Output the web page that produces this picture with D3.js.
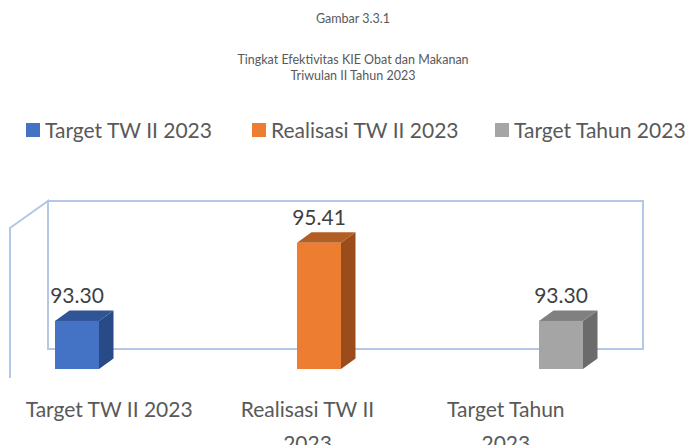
<!DOCTYPE html>
<meta charset="utf-8">
<style>
body { margin: 0; background: #fff; }
text { font-family: Lato, Carlito, Calibri, sans-serif; }
.wall { fill: none; stroke: #b4c7e7; stroke-width: 2px; }
.title { fill: #595959; font-size: 12.5px; }
.legend text, .cat { fill: #595959; font-size: 21px; }
.val { fill: #404040; font-size: 21px; }
</style>
<body>
<svg id="chart" width="700" height="445"></svg>
<script src="https://d3js.org/d3.v7.min.js"></script>
<script>

const titleLines = ["Gambar 3.3.1", "Tingkat Efektivitas KIE Obat dan Makanan", "Triwulan II Tahun 2023"]
const categories = ["Target TW II 2023", "Realisasi TW II 2023", "Target Tahun 2023"]
const values = [93.30, 95.41, 93.30]
const yDomain = [92, 96]

const front = ["#4472c4", "#ed7d31", "#a5a5a5"]
const top_ = ["#2f5597", "#b35f23", "#808080"]
const side = ["#284a86", "#9a4d1b", "#6b6b6b"]

const svg = d3.select("#chart")

// title
svg.selectAll(".title").data(titleLines).join("text")
    .attr("class", "title")
    .attr("x", 353)
    .attr("y", (d, i) => [23, 64, 80][i])
    .attr("text-anchor", "middle")
    .text(d => d)

// legend
const legendX = [26, 252, 495]
const lg = svg.append("g").attr("class", "legend")
  .selectAll("g").data(categories).join("g")
    .attr("transform", (d, i) => `translate(${legendX[i]},123)`)
lg.append("rect").attr("width", 14).attr("height", 14).attr("fill", (d, i) => front[i])
lg.append("text").attr("x", 19).attr("y", 15).text(d => d)

// 3d box: floor front edge at y 378, back edge 29px up and 38px right
const floorFront = 378, depthX = 38, depthY = -29
const h = d3.scaleLinear().domain(yDomain).range([0, 148])

const backBase = floorFront + depthY
svg.append("rect").attr("class", "wall")
    .attr("x", 10 + depthX).attr("y", backBase - h(yDomain[1]))
    .attr("width", 595).attr("height", h(yDomain[1]))
svg.append("path").attr("class", "wall")
    .attr("d", d3.line()([
      [10, floorFront], [10, floorFront - h(yDomain[1]) - 2],
      [10 + depthX, backBase - h(yDomain[1])], [10 + depthX, backBase]
    ]))

// bars
const xBar = d3.scalePoint().domain(categories).range([77, 561])
const barW = 44, bdx = 14.5, bdy = -10.5
const barBase = 369

const bars = svg.append("g").selectAll("g").data(categories).join("g")
bars.each(function(c, i) {
  const g = d3.select(this)
  const x0 = xBar(c) - barW / 2, x1 = x0 + barW
  const yt = barBase - h(values[i]), yb = barBase
  g.append("path").attr("fill", side[i])
      .attr("d", d3.line()([[x1, yt], [x1 + bdx, yt + bdy], [x1 + bdx, yb + bdy], [x1, yb]]))
  g.append("path").attr("fill", top_[i])
      .attr("d", d3.line()([[x0, yt], [x0 + bdx, yt + bdy], [x1 + bdx, yt + bdy], [x1, yt]]))
  g.append("rect").attr("fill", front[i])
      .attr("x", x0).attr("y", yt).attr("width", barW).attr("height", yb - yt)
  g.append("text").attr("class", "val")
      .attr("x", xBar(c)).attr("y", yt - 18)
      .attr("text-anchor", "middle")
      .text(d3.format(".2f")(values[i]))
})

// category labels, centred on floor bands, wrapped like excel does
const xCat = d3.scaleBand().domain(categories).range([10, 605])
const cats = svg.selectAll(".cat").data(categories).join("text")
    .attr("class", "cat")
    .attr("text-anchor", "middle")
    .attr("y", 417)
cats.each(function(d) {
  const t = d3.select(this), words = d.split(" ")
  let line = [], lines = []
  const probe = t.append("tspan")
  words.forEach(w => {
    probe.text(line.concat(w).join(" "))
    if (probe.node().getComputedTextLength() > 167 && line.length) {
      lines.push(line.join(" ")); line = [w]
    } else line.push(w)
  })
  lines.push(line.join(" "))
  probe.remove()
  t.selectAll("tspan").data(lines).join("tspan")
      .attr("x", xCat(d) + xCat.bandwidth() / 2)
      .attr("dy", (l, i) => i ? 34 : 0)
      .text(l => l)
})

</script>
